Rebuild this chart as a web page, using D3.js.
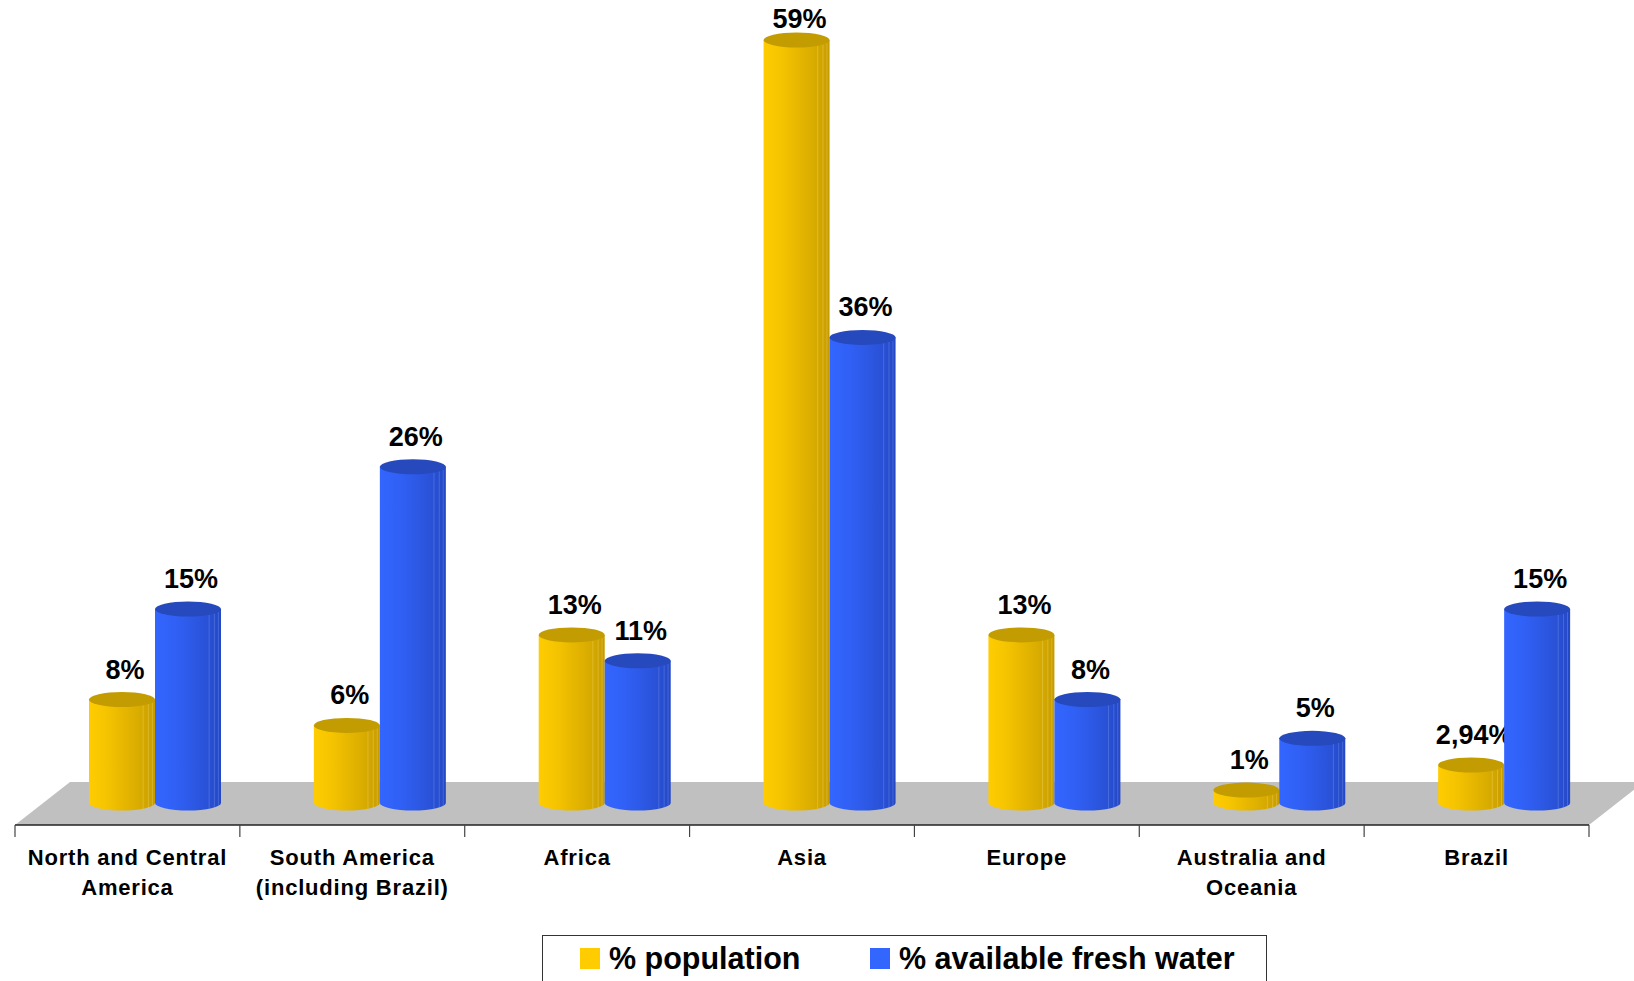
<!DOCTYPE html>
<html>
<head>
<meta charset="utf-8">
<script src="https://cdn.jsdelivr.net/npm/d3@7"></script>
<style>
  html, body { margin: 0; padding: 0; background: #fff; }
  svg { display: block; }
  text { font-family: Arial, "Liberation Sans", sans-serif; font-weight: bold; fill: #000; }
</style>
</head>
<body>
<svg id="chart" width="1634" height="981"></svg>
<script>
// ---- data ----
const categories = [
  ["North and Central", "America"],
  ["South America", "(including Brazil)"],
  ["Africa"],
  ["Asia"],
  ["Europe"],
  ["Australia and", "Oceania"],
  ["Brazil"]
];
const seriesNames = ["% population", "% available fresh water"];
const population = [8, 6, 13, 59, 13, 1, 2.94];
const freshWater = [15, 26, 11, 36, 8, 5, 15];
const populationLabels = ["8%", "6%", "13%", "59%", "13%", "1%", "2,94%"];
const freshWaterLabels = ["15%", "26%", "11%", "36%", "8%", "5%", "15%"];

// ---- layout ----
const svg = d3.select("#chart");
const axisY = 825, floorTopY = 782, depthDX = 55;
const catKeys = categories.map((c, i) => i);

const x = d3.scaleBand().domain(catKeys).range([15, 1589]).padding(0);
const xs = d3.scaleBand().domain([0, 1]).range([74, 206]).padding(0);
const y = d3.scaleLinear().domain([0, 59]).range([803, 40]);

const defs = svg.append("defs");
function grad(id, stops) {
  const g = defs.append("linearGradient").attr("id", id)
    .attr("x1", "0%").attr("x2", "100%").attr("y1", "0%").attr("y2", "0%");
  stops.forEach(s => g.append("stop").attr("offset", s[0]).attr("stop-color", s[1]));
}
grad("gYel", [["0%", "#FFCC00"], ["25%", "#F6C500"], ["50%", "#E8B800"], ["75%", "#D9AC00"], ["90%", "#CFA300"], ["100%", "#C59B00"]]);
grad("gBlu", [["0%", "#3366FF"], ["30%", "#3060F5"], ["55%", "#2D59E6"], ["80%", "#2951D6"], ["100%", "#2548C4"]]);
const topColor = ["#C29C00", "#2649BE"];
const fills = ["url(#gYel)", "url(#gBlu)"];
const lineColor = ["#F5DC70", "#7F9CF5"];

// floor
svg.append("polygon")
  .attr("points", [[15, axisY], [15 + depthDX, floorTopY], [1589 + depthDX, floorTopY], [1589, axisY]].map(p => p.join(",")).join(" "))
  .attr("fill", "#C0C0C0");

// axis
svg.append("line").attr("x1", 15).attr("x2", 1589).attr("y1", axisY).attr("y2", axisY)
  .attr("stroke", "#222").attr("stroke-width", 1.5);
const ticks = catKeys.map(k => x(k)).concat([x.range()[1]]);
svg.selectAll(".tick").data(ticks).enter().append("line")
  .attr("x1", d => d).attr("x2", d => d).attr("y1", axisY).attr("y2", axisY + 12)
  .attr("stroke", "#444").attr("stroke-width", 1.2);

// bars
const rows = [];
catKeys.forEach(i => {
  rows.push({ c: i, s: 0, v: population[i], label: populationLabels[i] });
  rows.push({ c: i, s: 1, v: freshWater[i], label: freshWaterLabels[i] });
});
const ry = 7.5;
const barG = svg.append("g");
rows.forEach(d => {
  const x0 = x(d.c) + xs(d.s), x1 = x0 + xs.bandwidth();
  const rx = (x1 - x0) / 2;
  const yT = y(d.v), yB = y(0);
  const g = barG.append("g");
  g.append("path")
    .attr("d", `M${x0},${yT} L${x0},${yB} A${rx},${ry} 0 0 0 ${x1},${yB} L${x1},${yT} Z`)
    .attr("fill", fills[d.s]);
  [0.82, 0.9, 0.96].forEach(f => {
    const lx = x0 + (x1 - x0) * f;
    const dy = ry * Math.sqrt(Math.max(0, 1 - Math.pow((lx - (x0 + rx)) / rx, 2)));
    g.append("line").attr("x1", lx).attr("x2", lx).attr("y1", yT + dy).attr("y2", yB + dy)
      .attr("stroke", lineColor[d.s]).attr("stroke-opacity", 0.45).attr("stroke-width", 0.8);
  });
  g.append("ellipse").attr("cx", x0 + rx).attr("cy", yT).attr("rx", rx).attr("ry", ry)
    .attr("fill", topColor[d.s]);
  g.append("text")
    .attr("x", x0 + rx + 3)
    .attr("y", Math.max(yT - 21, 28))
    .attr("text-anchor", "middle")
    .attr("font-size", 27)
    .text(d.label);
});

// category labels
catKeys.forEach(i => {
  const cx = x(i) + x.bandwidth() / 2;
  categories[i].forEach((line, j) => {
    svg.append("text").attr("x", cx).attr("y", 865 + j * 30)
      .attr("text-anchor", "middle").attr("font-size", 22)
      .attr("letter-spacing", "0.8px")
      .text(line);
  });
});

// legend
const lg = svg.append("g");
lg.append("rect").attr("x", 542.5).attr("y", 935.5).attr("width", 724).attr("height", 60)
  .attr("fill", "#fff").attr("stroke", "#333").attr("stroke-width", 1);
const legendColors = ["#FFCC00", "#3366FF"];
const legendX = [580, 870];
seriesNames.forEach((n, i) => {
  lg.append("rect").attr("x", legendX[i]).attr("y", 948).attr("width", 20).attr("height", 21)
    .attr("fill", legendColors[i]);
  lg.append("text").attr("x", legendX[i] + 29).attr("y", 969).attr("font-size", 30.5).text(n);
});
</script>
</body>
</html>
